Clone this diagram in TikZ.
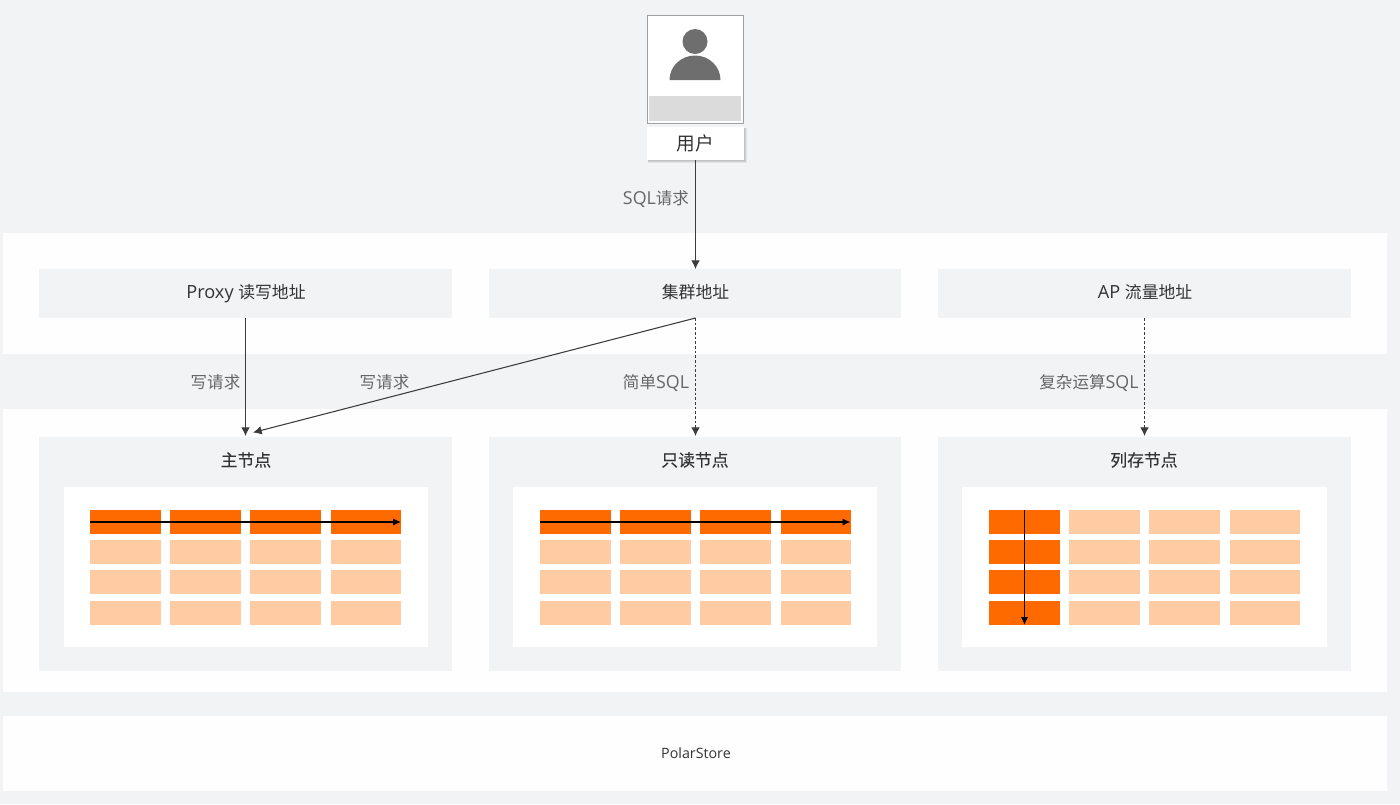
\documentclass[tikz,border=0pt]{standalone}
\usepackage{fontspec}
\setmainfont[Scale=1.08]{Open Sans}
\newfontfamily\cjk{Noto Sans CJK SC}
\newfontfamily\cjkheavy[FakeBold=0.25]{Noto Sans CJK SC}
\usetikzlibrary{arrows.meta}
\definecolor{pagebg}{HTML}{F1F3F4}
\definecolor{bandwhite}{HTML}{FEFEFE}
\definecolor{hotcell}{HTML}{FF6A00}
\definecolor{coolcell}{HTML}{FFCBA3}
\definecolor{inkdark}{HTML}{333333}
\definecolor{inkgrey}{HTML}{666666}
\definecolor{wire}{HTML}{3C3C3C}
\definecolor{figure}{HTML}{6E6E6E}
\tikzset{
  x=0.75pt, y=-0.75pt,
  every node/.style={inner sep=0pt, outer sep=0pt},
  band/.style={fill=bandwhite},
  panel/.style={fill=pagebg},
  sheet/.style={fill=white},
  hot/.style={fill=hotcell},
  cool/.style={fill=coolcell},
  addrtext/.style={text=inkdark, anchor=base, font=\fontsize{12.6pt}{15pt}\selectfont},
  nametext/.style={text=inkdark, font=\fontsize{12.6pt}{15pt}\cjkheavy},
  edgelabel/.style={text=inkgrey, anchor=base, font=\fontsize{12.4pt}{15pt}\selectfont},
  flow/.style={draw=wire, line width=0.8pt, -{Latex[length=6.5pt,width=6.5pt]}},
  softflow/.style={flow, dash pattern=on 2pt off 1.5pt},
  scan/.style={draw=black, line width=0.9pt, -{Latex[length=6pt,width=5.5pt]}},
  tagshade/.style={fill=black, opacity=0.07},
}
% \area{name}{x1}{y1}{x2}{y2}{style}{text}: rectangle node given by its corners
\newcommand{\area}[7]{%
  \pgfmathsetmacro{\areaw}{(#4-#2)*0.75}%
  \pgfmathsetmacro{\areah}{(#5-#3)*0.75}%
  \node[#6, minimum width=\areaw pt, minimum height=\areah pt, anchor=north west] (#1) at (#2,#3) {#7};%
}
% \cellgrid{prefix}{x offset}{hot column or 0}{hot row or 0}: the 4x4 table of cells
\newcommand{\cellgrid}[4]{%
  \foreach \r/\ya/\yb in {1/510/534,2/540/564,3/570/594,4/601/625}{%
    \foreach \c/\xa/\xb in {1/90/161,2/170/241,3/250.3/321,4/331/401}{%
      \pgfmathsetmacro{\isHot}{(\c==#3 || \r==#4) ? 1 : 0}%
      \pgfmathsetmacro{\xl}{\xa+#2}%
      \pgfmathsetmacro{\xr}{\xb+#2}%
      \ifdim\isHot pt=1pt\relax
        \area{#1-\r-\c}{\xl}{\ya}{\xr}{\yb}{hot}{}%
      \else
        \area{#1-\r-\c}{\xl}{\ya}{\xr}{\yb}{cool}{}%
      \fi
    }%
  }%
}
\begin{document}
\begin{tikzpicture}
  \useasboundingbox[fill=pagebg] (0,0) rectangle (1400,804);

  % Horizontal layers
  \area{layerAddr}{3}{233}{1387}{354}{band}{}
  \area{layerNodes}{3}{409}{1387}{692}{band}{}
  \area{layerStore}{3}{716}{1387}{791}{band}{}
  \node[text=inkdark, font=\fontsize{9.9pt}{12pt}\selectfont] (store) at (696,753.5) {PolarStore};

  % User card
  \area{card}{647}{15}{743}{123}{fill=white, draw=black!38, line width=0.75pt}{}
  \area{cardStrip}{649}{96}{741}{121}{fill=black!14}{}
  \node[circle, fill=figure, minimum size=18.75pt] (head) at (695,41.5) {};
  \fill[figure] (669.5,80) arc[start angle=180, end angle=0, x radius=25.5, y radius=-24.5] -- cycle;
  \fill[tagshade] (648,128) rectangle (747,163);
  \fill[tagshade] (648,128) rectangle (746,162);
  \fill[tagshade] (648,128) rectangle (745,161);
  \area{userTag}{647}{127}{744}{160}{fill=white}{}
  \node[text=inkdark, font=\fontsize{14pt}{16pt}\cjk] (userName) at (695,143) {用户};

  % Address bars
  \area{addrProxy}{39}{269}{452}{318}{panel}{}
  \area{addrCluster}{489}{269}{901}{318}{panel}{}
  \area{addrAP}{938}{269}{1351}{318}{panel}{}
  \node[addrtext] (addrProxyText) at (246,298.5) {Proxy {\cjk 读写地址}};
  \node[addrtext] (addrClusterText) at (695.5,298.5) {{\cjk 集群地址}};
  \node[addrtext] (addrAPText) at (1145,298.5) {AP {\cjk 流量地址}};

  % Compute node panels
  \area{nodeMain}{39}{437}{452}{671}{panel}{}
  \area{nodeRead}{489}{437}{901}{671}{panel}{}
  \area{nodeColumn}{938}{437}{1351}{671}{panel}{}
  \area{sheetMain}{64}{487}{428}{647}{sheet}{}
  \area{sheetRead}{513}{487}{877}{647}{sheet}{}
  \area{sheetColumn}{962}{487}{1327}{647}{sheet}{}
  \node[nametext] (nameMain) at (246,460) {主节点};
  \node[nametext] (nameRead) at (695,460) {只读节点};
  \node[nametext] (nameColumn) at (1144,460) {列存节点};

  % Row and column cells
  \cellgrid{m}{0}{0}{1}
  \cellgrid{r}{449.5}{0}{1}
  \cellgrid{c}{899}{1}{0}

  % Scan directions inside the tables
  \draw[scan] (m-1-1.west) -- (m-1-4.east);
  \draw[scan] (r-1-1.west) -- (r-1-4.east);
  \draw[scan] (c-1-1.north) -- (c-4-1.south);

  % Request routes
  \coordinate (mainEntry) at (253,432.5);
  \coordinate (userOut) at (695.5,160);
  \coordinate (clusterIn) at (695.5,269);
  \coordinate (clusterOut) at (695.5,318);
  \coordinate (proxyOut) at (245.5,318);
  \coordinate (proxyIn) at (245.5,436);
  \coordinate (readIn) at (695.5,436);
  \coordinate (apOut) at (1144.5,318);
  \coordinate (apIn) at (1144.5,436);
  \draw[flow] (userOut) -- (clusterIn);
  \draw[flow] (proxyOut) -- (proxyIn);
  \draw[flow] (clusterOut) -- (mainEntry);
  \draw[softflow] (clusterOut) -- (readIn);
  \draw[softflow] (apOut) -- (apIn);

  % Route labels
  \node[edgelabel] (lblSql) at (656,204) {SQL{\cjk 请求}};
  \node[edgelabel] (lblWriteA) at (215.5,388) {{\cjk 写请求}};
  \node[edgelabel] (lblWriteB) at (384.5,388) {{\cjk 写请求}};
  \node[edgelabel] (lblSimple) at (656,388) {{\cjk 简单}SQL};
  \node[edgelabel] (lblComplex) at (1089,388) {{\cjk 复杂运算}SQL};
\end{tikzpicture}
\end{document}
